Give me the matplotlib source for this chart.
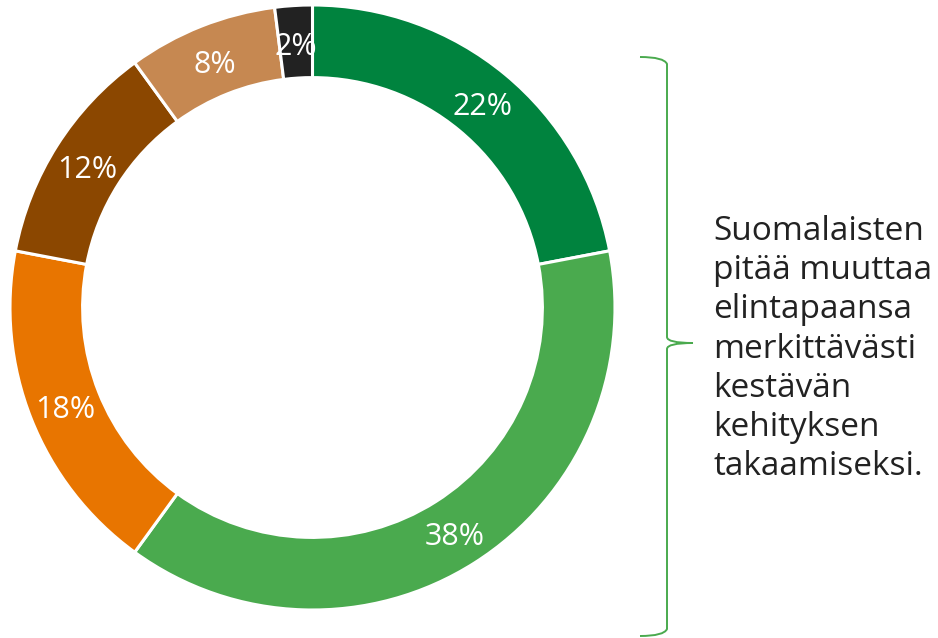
"""Donut chart: Finns' views on changing lifestyles for sustainable development."""

import matplotlib

matplotlib.use("Agg")
import matplotlib.pyplot as plt
from matplotlib.patches import PathPatch
from matplotlib.path import Path
from matplotlib.transforms import ScaledTranslation

shares = [22, 38, 18, 12, 8, 2]
colors = ["#00833e", "#4aaa4e", "#e87500", "#8b4700", "#c68851", "#222222"]
caption_lines = [
    "Suomalaisten",
    "pitää muuttaa",
    "elintapaansa",
    "merkittävästi",
    "kestävän",
    "kehityksen",
    "takaamiseksi.",
]

W, H = 938, 638
plt.rcParams["font.family"] = ["Open Sans", "DejaVu Sans"]
fig = plt.figure(figsize=(W / 100, H / 100), dpi=100)

# donut, placed in pixel terms: centre (312, 307), radius ~302
ax = fig.add_axes([10 / W, (H - 610) / H, 605 / W, 605 / H])
wedges, _, autotexts = ax.pie(
    shares,
    colors=colors,
    startangle=90,
    counterclock=False,
    radius=1.0,
    autopct=lambda p: f"{p:.0f}%",
    pctdistance=0.88,
    wedgeprops=dict(width=0.24, edgecolor="white", linewidth=2.2),
    textprops=dict(color="white", fontsize=22),
)
# labels sit a touch lower in the original
nudge = ScaledTranslation(0, -0.05, fig.dpi_scale_trans)
for t in autotexts:
    t.set_transform(t.get_transform() + nudge)
ax.set_xlim(-1, 1)
ax.set_ylim(-1, 1)
ax.set_aspect("equal")
ax.axis("off")

# overlay axes in pixel coordinates for the brace and caption
ov = fig.add_axes([0, 0, 1, 1])
ov.set_xlim(0, W)
ov.set_ylim(H, 0)
ov.axis("off")

xs, xl, xt, ym = 667, 640, 693, 343
verts = [
    (xl, 57), (664, 57), (xs, 64),
    (xs, ym - 6),
    (xs, ym), (xt, ym),
    (xs, ym), (xs, ym + 6),
    (xs, 629),
    (664, 636), (xl, 636),
]
codes = [
    Path.MOVETO, Path.CURVE3, Path.CURVE3,
    Path.LINETO,
    Path.CURVE3, Path.CURVE3,
    Path.CURVE3, Path.CURVE3,
    Path.LINETO,
    Path.CURVE3, Path.CURVE3,
]
ov.add_patch(PathPatch(Path(verts, codes), fill=False, edgecolor="#4aaa4e", linewidth=1.4))

for i, line in enumerate(caption_lines):
    ov.text(713, 240 + i * 39.2, line, fontsize=24,
            color="#222222", ha="left", va="baseline")

fig.savefig("out.png", dpi=100)
